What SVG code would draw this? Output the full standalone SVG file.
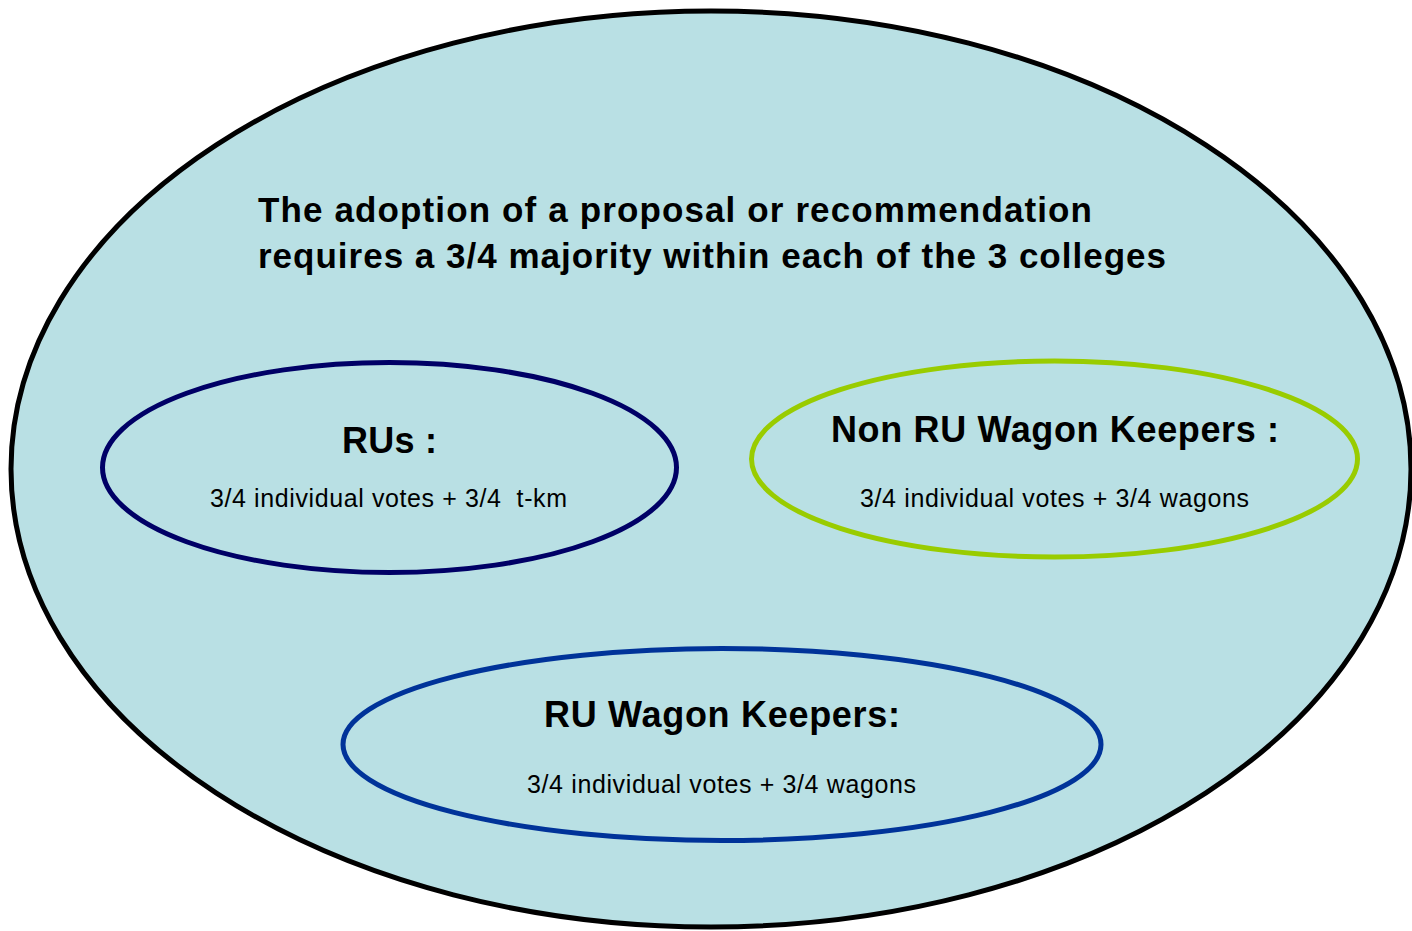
<svg xmlns="http://www.w3.org/2000/svg" width="1412" height="931" viewBox="0 0 1412 931">
<style>
.bg{fill:#b9e0e4}
.title{font-family:"Liberation Sans",Arial,sans-serif;font-weight:bold;font-size:35px;fill:#000}
.head{font-family:"Liberation Sans",Arial,sans-serif;font-weight:bold;font-size:36px;fill:#000;text-anchor:middle}
.sub{font-family:"Liberation Sans",Arial,sans-serif;font-size:25px;fill:#000;text-anchor:middle;white-space:pre}
.ring{fill:none;stroke-width:5}
</style>
<rect width="1412" height="931" fill="#ffffff"/>
<g id="outer">
<ellipse cx="711" cy="469" rx="700" ry="458" class="bg" stroke="#000" stroke-width="5"/>
<text class="title" x="258" y="222" textLength="834" lengthAdjust="spacing">The adoption of a proposal or recommendation</text>
<text class="title" x="258" y="268" textLength="908" lengthAdjust="spacing">requires a 3/4 majority within each of the 3 colleges</text>
</g>
<g id="rus">
<ellipse cx="389.5" cy="467.5" rx="287" ry="105" class="ring" stroke="#000066"/>
<text class="head" x="389.5" y="453" textLength="95" lengthAdjust="spacing">RUs :</text>
<text class="sub" x="388.5" y="507" textLength="357" lengthAdjust="spacing" xml:space="preserve">3/4 individual votes + 3/4  t-km</text>
</g>
<g id="nonru">
<ellipse cx="1054.5" cy="459" rx="303" ry="98" class="ring" stroke="#99cc00"/>
<text class="head" x="1055" y="442" textLength="448" lengthAdjust="spacing">Non RU Wagon Keepers :</text>
<text class="sub" x="1054.5" y="507" textLength="389" lengthAdjust="spacing">3/4 individual votes + 3/4 wagons</text>
</g>
<g id="ruwk">
<ellipse cx="722" cy="744.5" rx="379" ry="96" class="ring" stroke="#003399"/>
<text class="head" x="722" y="727" textLength="356" lengthAdjust="spacing">RU Wagon Keepers:</text>
<text class="sub" x="721.5" y="793" textLength="389" lengthAdjust="spacing">3/4 individual votes + 3/4 wagons</text>
</g>
<g id="connectors"/>
</svg>
